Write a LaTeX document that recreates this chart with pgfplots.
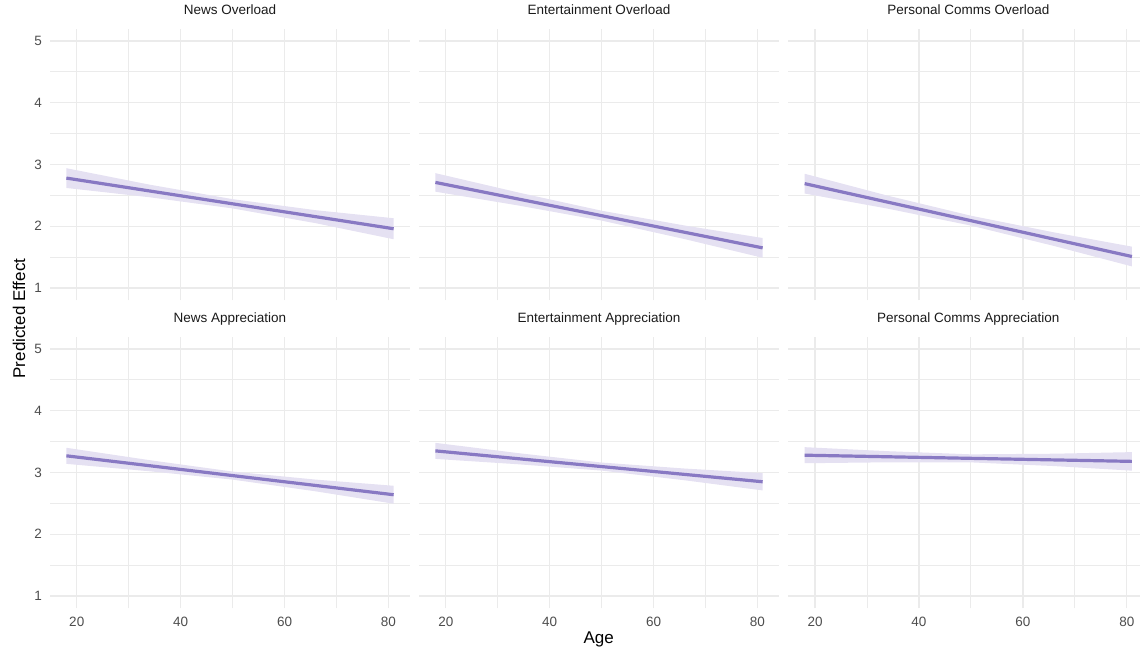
\documentclass[border=0pt]{standalone}
\usepackage{fontspec}
\setmainfont{Liberation Sans}
\usepackage{pgfplots}
\pgfplotsset{compat=1.18}
\definecolor{linec}{RGB}{136,121,195}
\definecolor{ribc}{RGB}{229,225,242}
\definecolor{gridc}{RGB}{235,235,235}
\definecolor{tickc}{RGB}{77,77,77}
\definecolor{stripc}{RGB}{26,26,26}

\pgfplotsset{
 panel/.style={
  scale only axis, width=360pt, height=271.8pt,
  xmin=14.85, xmax=84.15, ymin=0.8, ymax=5.2,
  xtick={20,40,60,80}, minor xtick={30,50,70},
  ytick={1,2,3,4,5}, minor ytick={1.5,2.5,3.5,4.5},
  grid=both,
  major grid style={draw=gridc, line width=1.4pt},
  minor grid style={draw=gridc, line width=0.9pt},
  axis line style={draw=none},
  major tick length=0pt, minor tick length=0pt,
  tick style={draw=none},
  /pgf/number format/assume math mode=true,
  ticklabel style={font=\fontsize{13.5}{16}\selectfont, text=tickc},
  yticklabel style={anchor=east, inner sep=0pt, xshift=-8pt},
  xticklabel style={anchor=north, inner sep=0pt, yshift=-8pt},
  title style={font=\fontsize{13.5}{16}\selectfont, text=stripc, anchor=base, at={(0.5,1)}, yshift=8pt, inner sep=0pt},
  anchor=south west,
 },
 rib/.style={fill=ribc, draw=none},
 fit/.style={linec, line width=3.2pt},
}

\begin{document}
\begin{tikzpicture}
\useasboundingbox (0,0) rectangle (1140pt,650pt);
% News Overload
\begin{axis}[panel, at={(50pt,349.6pt)}, title={News Overload}, xticklabels={}]
\addplot[rib] coordinates {(18,2.620)(34,2.470)(50,2.289)(66,2.050)(81,1.790)(81,2.130)(66,2.260)(50,2.439)(34,2.674)(18,2.940)};
\addplot[fit] coordinates {(18,2.78)(81,1.96)};
\end{axis}
% Entertainment Overload
\begin{axis}[panel, at={(419pt,349.6pt)}, title={Entertainment Overload}, xticklabels={}, yticklabels={}]
\addplot[rib] coordinates {(18,2.560)(34,2.336)(50,2.092)(66,1.792)(81,1.490)(81,1.810)(66,2.012)(50,2.252)(34,2.546)(18,2.860)};
\addplot[fit] coordinates {(18,2.71)(81,1.65)};
\end{axis}
% Personal Comms Overload
\begin{axis}[panel, at={(788.3pt,349.6pt)}, title={Personal Comms Overload}, xticklabels={}, yticklabels={}]
\addplot[rib] coordinates {(18,2.530)(34,2.285)(50,2.011)(66,1.681)(81,1.350)(81,1.670)(66,1.901)(50,2.171)(34,2.495)(18,2.850)};
\addplot[fit] coordinates {(18,2.69)(81,1.51)};
\end{axis}
% News Appreciation
\begin{axis}[panel, at={(50pt,41.6pt)}, title={News Appreciation}]
\addplot[rib] coordinates {(18,3.140)(34,3.020)(50,2.885)(66,2.695)(81,2.495)(81,2.785)(66,2.885)(50,3.015)(34,3.200)(18,3.400)};
\addplot[fit] coordinates {(18,3.27)(81,2.64)};
\end{axis}
% Entertainment Appreciation
\begin{axis}[panel, at={(419pt,41.6pt)}, title={Entertainment Appreciation}, yticklabels={}]
\addplot[rib] coordinates {(18,3.220)(34,3.133)(50,3.031)(66,2.874)(81,2.710)(81,2.990)(66,3.064)(50,3.161)(34,3.313)(18,3.480)};
\addplot[fit] coordinates {(18,3.35)(81,2.85)};
\end{axis}
% Personal Comms Appreciation
\begin{axis}[panel, at={(788.3pt,41.6pt)}, title={Personal Comms Appreciation}, yticklabels={}]
\addplot[rib] coordinates {(18,3.150)(34,3.165)(50,3.164)(66,3.104)(81,3.030)(81,3.330)(66,3.304)(50,3.294)(34,3.345)(18,3.410)};
\addplot[fit] coordinates {(18,3.28)(81,3.18)};
\end{axis}
\node[font=\fontsize{17}{20}\selectfont, anchor=base] at (598.7pt,6pt) {Age};
\node[font=\fontsize{17}{20}\selectfont, rotate=90, anchor=base] at (25pt,331.5pt) {Predicted Effect};
\end{tikzpicture}
\end{document}
